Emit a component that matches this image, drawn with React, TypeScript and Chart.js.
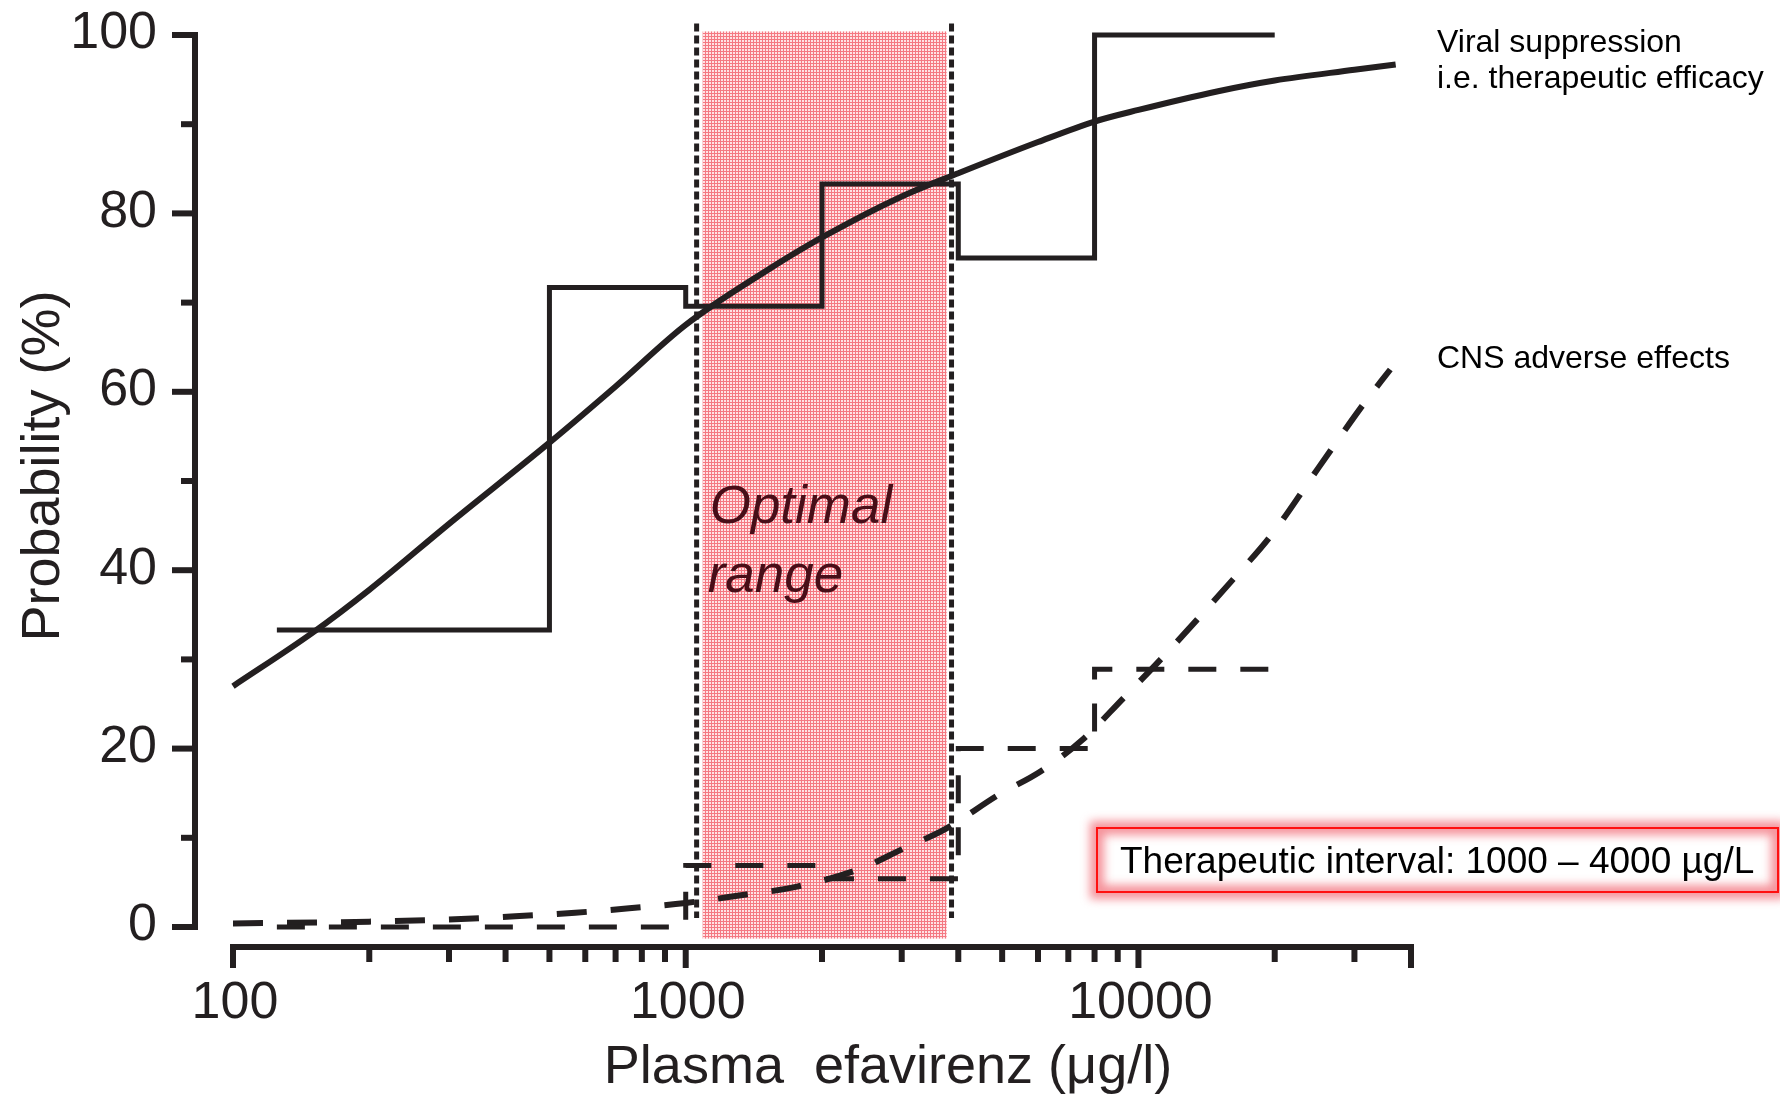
import React, { useEffect, useRef } from "react";
import { Chart, registerables } from "chart.js";

Chart.register(...registerables);

// ---------- data ----------
const xMin = 100;
const xMax = 40000;
const yMin = 0;
const yMax = 100;

const yMajorTicks = [0, 20, 40, 60, 80, 100];
const yMinorTicks = [10, 30, 50, 70, 90];
const xMajorTicks = [100, 1000, 10000, 40000];
const xMinorTicks = [200, 300, 400, 500, 600, 700, 800, 900, 2000, 3000, 4000, 5000, 6000, 7000, 8000, 9000, 20000, 30000];
const xTickLabels = ["100", "1000", "10000"];
const xTickLabelValues = [100, 1000, 10000];

// observed viral suppression (step)
const efficacyStepX = [125, 500, 1000, 2000, 4000, 8000, 20000];
const efficacyStepY = [33.3, 71.7, 69.6, 83.3, 75.0, 100, 100];

// fitted viral suppression curve
const efficacyCurveX = [100, 150, 200, 300, 500, 700, 1000, 1500, 2000, 3000, 4000, 6000, 8000, 10000, 15000, 20000, 30000, 37000];
const efficacyCurveY = [27.0, 33.0, 37.8, 45.2, 54.3, 60.6, 67.5, 73.5, 77.3, 81.9, 84.5, 88.0, 90.3, 91.6, 93.7, 94.9, 96.1, 96.7];

// observed CNS adverse effects (step)
const cnsStepX = [125, 1000, 2000, 4000, 8000, 20000];
const cnsStepY = [0, 6.9, 5.4, 20.0, 28.9, 28.9];

// fitted CNS adverse effects curve
const cnsCurveX = [100, 200, 300, 420, 570, 750, 1000, 1300, 1750, 2450, 3000, 3750, 4900, 6100, 7600, 9200, 11200, 13500, 16200, 19700, 25000, 31400, 36000];
const cnsCurveY = [0.4, 0.6, 0.85, 1.2, 1.6, 2.1, 2.7, 3.5, 4.5, 6.6, 8.7, 11.0, 14.8, 17.5, 21.2, 25.5, 30.0, 34.5, 39.0, 44.0, 51.5, 58.6, 62.5];

// optimal range shading and its dotted borders
const optimalShade = [1090, 3770];
const optimalShadeY = [-1.3, 100.4];
const optimalBorders = [1057, 3865];
const optimalBorderY = [1.0, 101.3];

const annotationEfficacy = ["Viral suppression", "i.e. therapeutic efficacy"];
const annotationCns = "CNS adverse effects";
const rangeLabel = ["Optimal", "range"];
const intervalLabel = "Therapeutic interval: 1000 – 4000 µg/L";
const yTitle = "Probability (%)";
const xTitle = "Plasma  efavirenz (μg/l)";

// ---------- styles ----------
const W = 1780;
const H = 1098;
const FONT = "'Liberation Sans', Arial, Helvetica, sans-serif";
const INK = "#231f20";

function pts(xs: number[], ys: number[]) {
  return xs.map((x, i) => ({ x, y: ys[i] }));
}

function makePattern(ctx: CanvasRenderingContext2D) {
  const c = document.createElement("canvas");
  c.width = 3;
  c.height = 3;
  const g = c.getContext("2d")!;
  g.fillStyle = "rgb(255,226,228)";
  g.fillRect(0, 0, 3, 3);
  g.fillStyle = "rgb(244,120,130)";
  g.fillRect(0, 0, 3, 1);
  g.fillRect(0, 0, 1, 3);
  return ctx.createPattern(c, "repeat");
}

const overlay = {
  id: "overlay",
  beforeDatasetsDraw(chart: any) {
    const { ctx, scales } = chart;
    const xs = scales.x;
    const ys = scales.y;
    ctx.save();
    // shaded optimal range
    const l = xs.getPixelForValue(optimalShade[0]);
    const r = xs.getPixelForValue(optimalShade[1]);
    const t = ys.getPixelForValue(optimalShadeY[1]);
    const b = ys.getPixelForValue(optimalShadeY[0]);
    ctx.fillStyle = makePattern(ctx) || "rgba(245,150,158,0.8)";
    ctx.fillRect(l, t, r - l, b - t);

    // dotted borders
    ctx.strokeStyle = INK;
    ctx.lineWidth = 5;
    ctx.setLineDash([8, 4]);
    for (const v of optimalBorders) {
      const px = xs.getPixelForValue(v);
      ctx.beginPath();
      ctx.moveTo(px, ys.getPixelForValue(optimalBorderY[1]));
      ctx.lineTo(px, ys.getPixelForValue(optimalBorderY[0]));
      ctx.stroke();
    }
    ctx.setLineDash([]);

    // Optimal range text
    ctx.fillStyle = "rgb(72,14,24)";
    ctx.font = `italic 53px ${FONT}`;
    ctx.textAlign = "left";
    ctx.textBaseline = "alphabetic";
    ctx.fillText(rangeLabel[0], l + 7, 523);
    ctx.fillText(rangeLabel[1], l + 5, 592);
    ctx.restore();
  },
  afterDraw(chart: any) {
    const { ctx, scales, chartArea } = chart;
    const xs = scales.x;
    const ys = scales.y;
    ctx.save();
    ctx.strokeStyle = INK;
    ctx.fillStyle = INK;
    ctx.lineCap = "butt";

    // y axis
    const axX = chartArea.left - 38;
    const y0 = ys.getPixelForValue(yMin);
    const y1 = ys.getPixelForValue(yMax);
    ctx.lineWidth = 6;
    ctx.beginPath();
    ctx.moveTo(axX, y1 - 3);
    ctx.lineTo(axX, y0 + 3);
    ctx.stroke();
    for (const v of yMajorTicks) {
      const p = ys.getPixelForValue(v);
      ctx.beginPath();
      ctx.moveTo(axX, p);
      ctx.lineTo(axX - 23, p);
      ctx.stroke();
    }
    for (const v of yMinorTicks) {
      const p = ys.getPixelForValue(v);
      ctx.beginPath();
      ctx.moveTo(axX, p);
      ctx.lineTo(axX - 14, p);
      ctx.stroke();
    }
    ctx.font = `52px ${FONT}`;
    ctx.textAlign = "right";
    ctx.textBaseline = "middle";
    for (const v of yMajorTicks) {
      ctx.fillText(String(v), axX - 38, ys.getPixelForValue(v) - 1);
    }

    // x axis
    const axY = chartArea.bottom + 20;
    const xl = xs.getPixelForValue(xMin);
    const xr = xs.getPixelForValue(xMax);
    ctx.beginPath();
    ctx.moveTo(xl - 3, axY);
    ctx.lineTo(xr + 3, axY);
    ctx.stroke();
    for (const v of xMajorTicks) {
      const p = xs.getPixelForValue(v);
      ctx.beginPath();
      ctx.moveTo(p, axY);
      ctx.lineTo(p, axY + 21);
      ctx.stroke();
    }
    for (const v of xMinorTicks) {
      const p = xs.getPixelForValue(v);
      ctx.beginPath();
      ctx.moveTo(p, axY);
      ctx.lineTo(p, axY + 15);
      ctx.stroke();
    }
    ctx.textAlign = "center";
    ctx.textBaseline = "alphabetic";
    xTickLabelValues.forEach((v, i) => {
      ctx.fillText(xTickLabels[i], xs.getPixelForValue(v) + 2, axY + 71);
    });

    // axis titles
    ctx.font = `54px ${FONT}`;
    ctx.fillText(xTitle, 888, 1083);
    ctx.save();
    ctx.translate(59, 466);
    ctx.rotate(-Math.PI / 2);
    ctx.textAlign = "center";
    ctx.fillText(yTitle, 0, 0);
    ctx.restore();

    // right-hand annotations
    ctx.font = `32px ${FONT}`;
    ctx.textAlign = "left";
    ctx.fillStyle = "#000";
    ctx.fillText(annotationEfficacy[0], 1437, 52);
    ctx.fillText(annotationEfficacy[1], 1437, 88);
    ctx.fillText(annotationCns, 1437, 368);

    // therapeutic interval box
    const bx = 1097, by = 828, bw = 681, bh = 64;
    ctx.save();
    ctx.filter = "blur(5px)";
    ctx.strokeStyle = "rgba(242,110,120,0.75)";
    ctx.lineWidth = 14;
    ctx.strokeRect(bx, by, bw, bh);
    ctx.restore();
    ctx.strokeStyle = "#ff1010";
    ctx.lineWidth = 2;
    ctx.strokeRect(bx, by, bw, bh);
    ctx.fillStyle = "#000";
    ctx.font = `37px ${FONT}`;
    ctx.textAlign = "left";
    ctx.textBaseline = "alphabetic";
    ctx.fillText(intervalLabel, 1120, 873);
    ctx.restore();
  },
};

export default function App() {
  const ref = useRef<HTMLCanvasElement | null>(null);
  useEffect(() => {
    document.body.style.margin = "0";
    const canvas = ref.current;
    if (!canvas) return;
    const base = {
      showLine: true,
      pointRadius: 0,
      pointHoverRadius: 0,
      fill: false,
      clip: false as any,
      borderColor: INK,
      backgroundColor: INK,
    };
    const chart = new Chart(canvas, {
      type: "scatter",
      data: {
        datasets: [
          {
            ...base,
            label: "Viral suppression (observed)",
            data: pts(efficacyStepX, efficacyStepY),
            borderWidth: 5,
            stepped: "before",
          },
          {
            ...base,
            label: "Viral suppression (fit)",
            data: pts(efficacyCurveX, efficacyCurveY),
            borderWidth: 6,
            cubicInterpolationMode: "monotone",
          },
          {
            ...base,
            label: "CNS adverse effects (observed)",
            data: pts(cnsStepX, cnsStepY),
            borderWidth: 5,
            borderDash: [28, 24],
            stepped: "before",
          },
          {
            ...base,
            label: "CNS adverse effects (fit)",
            data: pts(cnsCurveX, cnsCurveY),
            borderWidth: 6,
            borderDash: [30, 24],
            cubicInterpolationMode: "monotone",
          },
        ] as any,
      },
      options: {
        responsive: false,
        animation: false,
        devicePixelRatio: 1,
        layout: { padding: { left: 233, right: 369, top: 35, bottom: 171 } },
        scales: {
          x: { type: "logarithmic", min: xMin, max: xMax, display: false },
          y: { type: "linear", min: yMin, max: yMax, display: false },
        },
        plugins: {
          legend: { display: false },
          tooltip: { enabled: false },
        },
        events: [],
      } as any,
      plugins: [overlay],
    });
    return () => chart.destroy();
  }, []);
  return (
    <div style={{ position: "absolute", left: 0, top: 0, width: W, height: H, background: "#fff" }}>
      <canvas ref={ref} width={W} height={H} style={{ display: "block", width: W, height: H }} />
    </div>
  );
}
